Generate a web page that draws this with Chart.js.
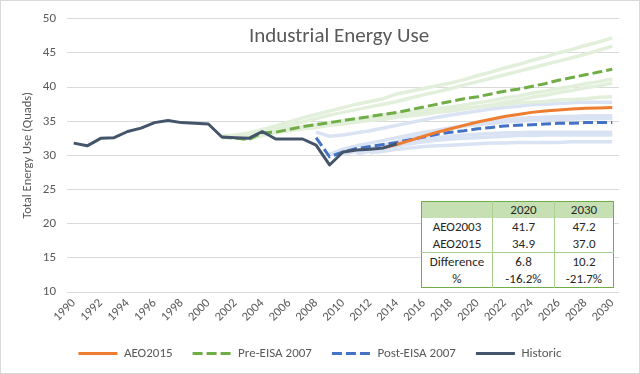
<!DOCTYPE html>
<html>
<head>
<meta charset="utf-8">
<script src="https://cdn.jsdelivr.net/npm/chart.js@4.4.1/dist/chart.umd.min.js"></script>
<style>
html,body{margin:0;padding:0;background:#fff;}
#wrap{position:relative;width:640px;height:374px;overflow:hidden;}
#frame{position:absolute;left:0;top:0;width:638px;height:372px;border:1px solid #D9D9D9;pointer-events:none;}
canvas{position:absolute;left:0;top:0;}
#tbl{position:absolute;left:421px;top:201px;border-collapse:collapse;font-family:Carlito,Lato,sans-serif;font-size:13px;color:#262626;background:#fff;border:1.5px solid #70AD47;table-layout:fixed;}
#tbl td{padding:0;text-align:center;line-height:16px;border-left:1px solid #A9D08E;}
#tbl td:first-child{border-left:none;}
#tbl tr.head td{background:#C6E0B4;height:16px;}
#tbl tr.sep td{border-top:1px solid #A9D08E;}
#tbl tr.row td{height:17px;}
</style>
</head>
<body>
<div id="wrap">
<canvas id="c" width="640" height="374"></canvas>
<table id="tbl"></table>
<div id="frame"></div>
</div>
<script>
// ---- categories / ticks ----
const years = ['1990','1991','1992','1993','1994','1995','1996','1997','1998','1999','2000','2001','2002','2003','2004','2005','2006','2007','2008','2009','2010','2011','2012','2013','2014','2015','2016','2017','2018','2019','2020','2021','2022','2023','2024','2025','2026','2027','2028','2029','2030'];
const yearTicks = ['1990','1992','1994','1996','1998','2000','2002','2004','2006','2008','2010','2012','2014','2016','2018','2020','2022','2024','2026','2028','2030'];

// ---- main series (start year, values) ----
const historicStart = '1990';
const historic = [31.8,31.4,32.5,32.6,33.5,34.0,34.8,35.1,34.8,34.7,34.6,32.7,32.6,32.5,33.5,32.4,32.4,32.4,31.5,28.6,30.5,30.8,30.9,31.1,31.7];
const aeo2015Start = '2013';
const aeo2015 = [31.1,31.6,32.2,32.8,33.4,33.9,34.4,34.9,35.3,35.7,36.0,36.3,36.5,36.65,36.8,36.9,36.95,37.0];
const preEisaStart = '2001';
const preEisa = [32.7,32.5,32.3,33.3,33.4,33.8,34.2,34.5,34.8,35.1,35.4,35.7,36.0,36.3,36.7,37.1,37.5,37.9,38.3,38.6,39.0,39.4,39.7,40.1,40.5,41.0,41.4,41.8,42.2,42.6];
const postEisaStart = '2008';
const postEisa = [32.6,29.8,30.5,31.0,31.3,31.6,31.9,32.3,32.7,33.1,33.4,33.6,33.9,34.1,34.3,34.4,34.5,34.6,34.7,34.7,34.8,34.8,34.8];

// ---- individual pre-EISA outlooks (light green) ----
const preRun1Start = '2001';
const preRun1 = [32.8,33.0,33.3,33.8,34.3,34.9,35.5,36.0,36.5,37.0,37.5,37.9,38.3,39.0,39.4,39.8,40.2,40.6,41.1,41.7,42.2,42.8,43.3,43.9,44.4,45.0,45.5,46.1,46.6,47.2];
const preRun2Start = '2001';
const preRun2 = [32.6,32.7,33.0,33.4,33.9,34.4,34.9,35.4,35.9,36.3,36.7,37.1,37.5,37.9,38.4,38.9,39.3,39.8,40.3,40.8,41.3,41.8,42.3,42.8,43.3,43.8,44.3,44.8,45.4,46.0];
const preRun3Start = '2002';
const preRun3 = [32.5,32.8,33.2,33.6,33.9,34.2,34.5,34.8,35.1,35.3,35.6,35.9,36.1,36.4,36.6,36.9,37.1,37.4,37.7,38.0,38.4,38.7,39.1,39.4,39.8,40.1,40.5,40.8,41.2];
const preRun4Start = '2003';
const preRun4 = [32.4,32.9,33.3,33.6,33.9,34.1,34.4,34.6,34.9,35.1,35.3,35.6,35.8,36.0,36.3,36.5,36.8,37.1,37.4,37.8,38.1,38.5,38.8,39.2,39.5,39.9,40.2,40.6];
const preRun5Start = '2004';
const preRun5 = [33.3,33.6,33.9,34.2,34.5,34.8,35.0,35.3,35.5,35.7,35.9,36.1,36.3,36.5,36.7,36.9,37.1,37.3,37.5,37.7,37.8,37.9,38.1,38.2,38.3,38.5,38.6];

// ---- individual post-EISA outlooks (light blue) ----
const postRun1Start = '2008';
const postRun1 = [33.4,32.8,33.0,33.3,33.6,34.0,34.4,34.8,35.2,35.6,35.9,36.2,36.5,36.8,37.0,37.2,37.4,37.5,37.6,37.7,37.8,37.8,37.8];
const postRun2Start = '2009';
const postRun2 = [30.2,30.9,31.4,31.8,32.2,32.6,33.0,33.4,33.7,34.0,34.3,34.5,34.7,34.9,35.0,35.1,35.2,35.3,35.3,35.4,35.4,35.4];
const postRun3Start = '2010';
const postRun3 = [30.2,30.6,31.0,31.4,31.8,32.1,32.4,32.6,32.8,33.0,33.1,33.2,33.3,33.3,33.4,33.4,33.4,33.4,33.4,33.4,33.4];
const postRun4Start = '2011';
const postRun4 = [30.2,30.6,31.0,31.4,31.7,32.0,32.2,32.4,32.5,32.6,32.7,32.8,32.9,32.9,33.0,33.0,33.0,33.0,33.0,33.0];
const postRun5Start = '2012';
const postRun5 = [30.4,30.6,30.9,31.1,31.3,31.4,31.5,31.6,31.7,31.8,31.8,31.9,31.9,31.9,31.9,32.0,32.0,32.0,32.0];
const postRun6Start = '2013';
const postRun6 = [31.5,32.0,32.6,33.1,33.6,34.0,34.4,34.7,35.0,35.2,35.4,35.5,35.6,35.7,35.7,35.8,35.8,35.8];

// ---- table ----
const tableYears = ['2020','2030'];
const tableLabels = ['AEO2003','AEO2015','Difference','%'];
const tableAEO2003 = ['41.7','47.2'];
const tableAEO2015 = ['34.9','37.0'];
const tableDiff = ['6.8','10.2'];
const tablePct = ['-16.2%','-21.7%'];

// place a series on the category axis starting at its first year
function place(start, vals){
  const arr = years.map(() => null);
  const s = years.indexOf(start);
  vals.forEach((v,i) => { arr[s+i] = v; });
  return arr;
}

// build the table
(function(){
  const t = document.getElementById('tbl');
  const colW = [71,62,59];
  let html = '<colgroup>' + colW.map(w => '<col style="width:'+w+'px">').join('') + '</colgroup>';
  html += '<tr class="head"><td></td><td>'+tableYears[0]+'</td><td>'+tableYears[1]+'</td></tr>';
  const rows = [tableAEO2003, tableAEO2015, tableDiff, tablePct];
  rows.forEach((r,i) => {
    html += '<tr class="row'+(i===2?' sep':'')+'"><td>'+tableLabels[i]+'</td><td>'+r[0]+'</td><td>'+r[1]+'</td></tr>';
  });
  t.innerHTML = html;
})();

const FONT = 'Carlito, Lato, sans-serif';
const GREEN_LIGHT = '#E2EFDA';
const BLUE_LIGHT = '#DAE3F3';

function light(label, start, vals, color){
  return {label, data: place(start, vals), borderColor: color, borderWidth: 3.5, pointRadius: 0, order: 10, borderJoinStyle:'round'};
}

const datasets = [
  {label:'AEO2015', data: place(aeo2015Start, aeo2015), borderColor:'#ED7D31', borderWidth:3, pointRadius:0, order:1, borderJoinStyle:'round'},
  {label:'Pre-EISA 2007', data: place(preEisaStart, preEisa), borderColor:'#70AD47', borderWidth:3, borderDash:[10,4], pointRadius:0, order:3},
  {label:'Post-EISA 2007', data: place(postEisaStart, postEisa), borderColor:'#4472C4', borderWidth:3, borderDash:[10,4], pointRadius:0, order:2},
  {label:'Historic', data: place(historicStart, historic), borderColor:'#44546A', borderWidth:3, pointRadius:0, order:0, borderJoinStyle:'round'},
  light('AEO2003', preRun1Start, preRun1, GREEN_LIGHT),
  light('AEO2004', preRun2Start, preRun2, GREEN_LIGHT),
  light('AEO2005', preRun3Start, preRun3, GREEN_LIGHT),
  light('AEO2006', preRun4Start, preRun4, GREEN_LIGHT),
  light('AEO2007', preRun5Start, preRun5, GREEN_LIGHT),
  light('AEO2008', postRun1Start, postRun1, BLUE_LIGHT),
  light('AEO2009', postRun2Start, postRun2, BLUE_LIGHT),
  light('AEO2010', postRun3Start, postRun3, BLUE_LIGHT),
  light('AEO2011', postRun4Start, postRun4, BLUE_LIGHT),
  light('AEO2012', postRun5Start, postRun5, BLUE_LIGHT),
  light('AEO2013', postRun6Start, postRun6, BLUE_LIGHT)
];

const innerTitle = {
  id: 'innerTitle',
  afterDraw(chart){
    const {ctx, chartArea} = chart;
    ctx.save();
    ctx.font = '21px ' + FONT;
    ctx.fillStyle = '#595959';
    ctx.textAlign = 'center';
    ctx.textBaseline = 'middle';
    ctx.fillText('Industrial Energy Use', (chartArea.left + chartArea.right)/2 - 4, chartArea.top + 18);
    ctx.restore();
  }
};

new Chart(document.getElementById('c'), {
  type: 'line',
  data: { labels: years, datasets },
  options: {
    responsive: false,
    animation: false,
    devicePixelRatio: 1,
    layout: { padding: { left: 0, right: 0, top: 10, bottom: 4 } },
    elements: { line: { tension: 0, fill: false } },
    plugins: {
      title: { display: false },
      tooltip: { enabled: false },
      legend: {
        position: 'bottom',
        labels: {
          usePointStyle: true,
          pointStyle: 'line',
          pointStyleWidth: 39,
          padding: 20,
          color: '#595959',
          font: { family: FONT, size: 13 },
          generateLabels(chart){
            return chart.data.datasets.slice(0, 4).map((ds, i) => ({
              text: ds.label,
              datasetIndex: i,
              strokeStyle: ds.borderColor,
              fillStyle: ds.borderColor,
              lineWidth: 3,
              lineDash: ds.borderDash || [],
              lineCap: 'butt',
              pointStyle: 'line',
              hidden: false,
              fontColor: '#595959'
            }));
          }
        }
      }
    },
    scales: {
      x: {
        type: 'category',
        offset: true,
        grid: { display: false, drawTicks: false },
        border: { display: false },
        ticks: {
          autoSkip: false,
          minRotation: 45,
          maxRotation: 45,
          padding: 4,
          color: '#595959',
          font: { family: FONT, size: 12.5 },
          callback: function(v, i){ const y = years[i]; return yearTicks.includes(y) ? y : ''; }
        },
        afterFit(scale){ scale.height = 35; }
      },
      y: {
        min: 10, max: 50,
        grid: { color: '#D9D9D9', lineWidth: 1, drawTicks: false },
        border: { display: false },
        ticks: { stepSize: 5, padding: 11, color: '#595959', font: { family: FONT, size: 13 } },
        title: { display: true, text: 'Total Energy Use (Quads)', color: '#595959', font: { family: FONT, size: 12.5 }, padding: { top: 20, bottom: 0 } },
        afterFit(scale){ scale.width = 67; }
      },
      yRightSpace: {
        position: 'right',
        min: 10, max: 50,
        grid: { display: false, drawTicks: false },
        border: { display: false },
        ticks: { display: false },
        afterFit(scale){ scale.width = 21; }
      }
    }
  },
  plugins: [innerTitle]
});
</script>
</body>
</html>
